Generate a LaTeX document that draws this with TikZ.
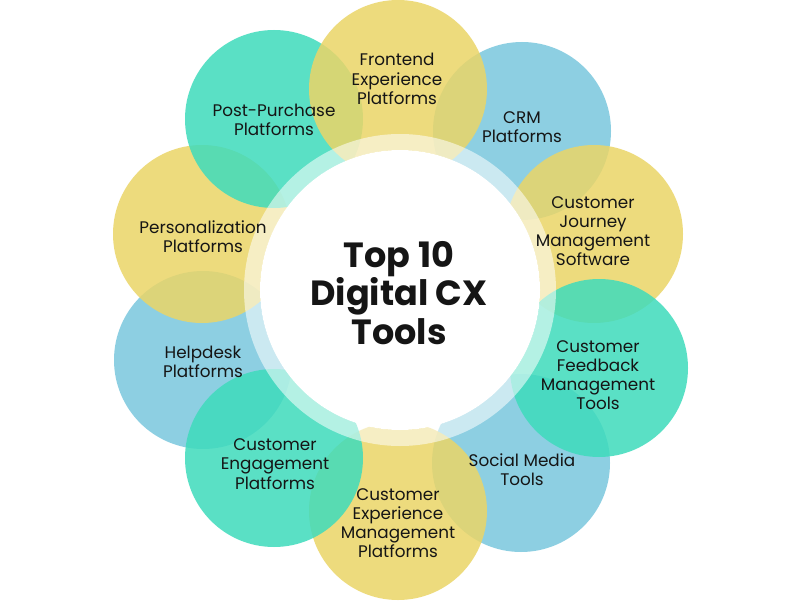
\documentclass[tikz,border=0pt]{standalone}
\usepackage{fontspec}
\setmainfont{Poppins}
\definecolor{cxyellow}{HTML}{EBD567}
\definecolor{cxteal}{HTML}{3EDBBC}
\definecolor{cxblue}{HTML}{7AC7DE}
\definecolor{ink}{HTML}{151515}
\begin{document}
\begin{tikzpicture}[x=1pt,y=-1pt,
  petal/.style={circle, minimum size=178pt, inner sep=0pt, fill opacity=0.85},
  yel/.style={petal, fill=cxyellow},
  tea/.style={petal, fill=cxteal},
  blu/.style={petal, fill=cxblue},
  lbl/.style={align=center, font=\fontsize{16.8}{19.2}\selectfont, text=ink, inner sep=0pt},
  ttl/.style={align=center, font=\fontsize{35}{38.5}\selectfont, text=ink, inner sep=0pt},
]
\fill[white] (0,0) rectangle (795,602);
\useasboundingbox (0,0) rectangle (795,602);
% petals (draw order gives the overlaps)
\node[blu] (crm) at (522,131) {};
\node[blu] (social) at (521,463) {};
\node[blu] (helpdesk) at (203,360) {};
\node[yel] (personal) at (202,234) {};
\node[yel] (journey) at (594,234) {};
\node[yel] (cxm) at (398,511) {};
\node[tea] (post) at (274,119) {};
\node[tea] (feedback) at (599,368) {};
\node[tea] (engage) at (274,458) {};
\node[yel] (frontend) at (398,89) {};
% centre ring and disc
\coordinate (c) at (400,290);
\fill[white, fill opacity=0.55, even odd rule] (c) circle (156) (c) circle (140);
\node[circle, fill=white, minimum size=280pt, inner sep=0pt] (hub) at (c) {};
% labels
\node[ttl] (title) at (399,293) {\textbf{Top 10}\\\textbf{Digital CX}\\\textbf{Tools}};
\node[lbl] (tfrontend) at (397,79) {Frontend\\Experience\\Platforms};
\node[lbl] (tcrm) at (522,127) {CRM\\Platforms};
\node[lbl] (tjourney) at (593,231) {Customer\\Journey\\Management\\Software};
\node[lbl] (tfeedback) at (598,375) {Customer\\Feedback\\Management\\Tools};
\node[lbl] (tsocial) at (522,470) {Social Media\\Tools};
\node[lbl] (tcxm) at (398,523) {Customer\\Experience\\Management\\Platforms};
\node[lbl] (tengage) at (275,464) {Customer\\Engagement\\Platforms};
\node[lbl] (thelpdesk) at (203,362) {Helpdesk\\Platforms};
\node[lbl] (tpersonal) at (203,237) {Personalization\\Platforms};
\node[lbl] (tpost) at (274,120) {Post-Purchase\\Platforms};
\end{tikzpicture}
\end{document}
